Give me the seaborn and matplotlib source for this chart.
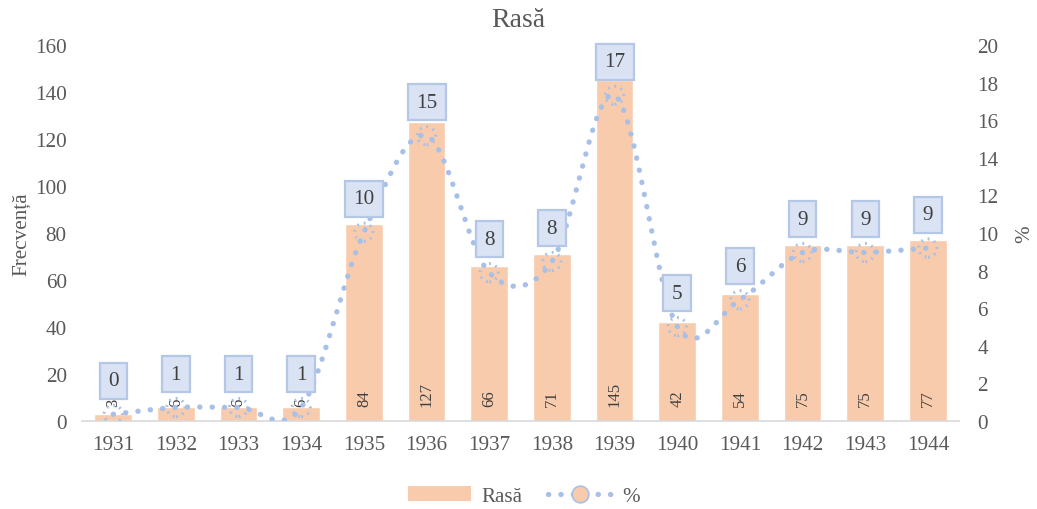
import numpy as np
import pandas as pd
import matplotlib
matplotlib.use("Agg")
import matplotlib.pyplot as plt
import seaborn as sns
from matplotlib.lines import Line2D
from matplotlib.patches import Patch

years = ["1931", "1932", "1933", "1934", "1935", "1936", "1937",
         "1938", "1939", "1940", "1941", "1942", "1943", "1944"]
counts = [3, 6, 6, 6, 84, 127, 66, 71, 145, 42, 54, 75, 75, 77]
percent = [0.36, 0.72, 0.72, 0.72, 10.04, 15.17, 7.89, 8.48, 17.32,
           5.02, 6.45, 8.96, 8.96, 9.20]
percent_labels = ["0", "1", "1", "1", "10", "15", "8", "8", "17",
                  "5", "6", "9", "9", "9"]

BAR = "#F8CBAD"
LINE = "#A8C0E8"
TXT = "#595959"
FS = 15.2

sns.set_theme(style="white")
plt.rcParams["font.family"] = ["Liberation Serif", "DejaVu Serif"]

df = pd.DataFrame({"year": years, "count": counts, "pct": percent})

fig = plt.figure(figsize=(10.37, 5.10), dpi=100)
ax = fig.add_axes([0.079, 0.1725, 0.846, 0.7375])
sns.barplot(data=df, x="year", y="count", color=BAR, width=0.6,
            saturation=1, ax=ax, zorder=2)
ax.set_xlim(-0.5, len(years) - 0.5)
ax.set_ylim(0, 160)
ax.set_yticks(np.arange(0, 161, 20))
for s in ["top", "right", "left"]:
    ax.spines[s].set_visible(False)
ax.spines["bottom"].set_color("#D9D9D9")
ax.spines["bottom"].set_linewidth(1.2)
ax.tick_params(axis="both", length=0, labelsize=FS, labelcolor=TXT)
ax.tick_params(axis="y", pad=11)
ax.tick_params(axis="x", pad=10)
ax.set_xlabel("")
ax.set_ylabel("Frecvență", fontsize=FS, color=TXT, labelpad=3)

# bar labels at base, rotated
for i, v in enumerate(counts):
    ax.annotate(str(v), (i, 0), xytext=(0, 11), textcoords="offset points",
                rotation=90, ha="center", va="bottom", fontsize=12,
                color="#404040", zorder=3)

ax2 = ax.twinx()
ax2.set_ylim(0, 20)
ax2.set_yticks(np.arange(0, 21, 2))
for s in ["top", "right", "left", "bottom"]:
    ax2.spines[s].set_visible(False)
ax2.tick_params(axis="y", length=0, labelsize=FS, labelcolor=TXT, pad=13)
ax2.set_ylabel("%", fontsize=FS, color=TXT, labelpad=12)

# smoothed line (Catmull-Rom style bezier like spreadsheet smoothing)
xs = np.arange(len(percent), dtype=float)
ys = np.array(percent, dtype=float)
px = np.concatenate([[xs[0]], xs, [xs[-1]]])
py = np.concatenate([[ys[0]], ys, [ys[-1]]])
cx, cy = [], []
t = np.linspace(0, 1, 30)
for k in range(1, len(px) - 2):
    p0 = np.array([px[k], py[k]])
    p3 = np.array([px[k + 1], py[k + 1]])
    c1 = p0 + (np.array([px[k + 1], py[k + 1]]) - np.array([px[k - 1], py[k - 1]])) / 6
    c2 = p3 - (np.array([px[k + 2], py[k + 2]]) - np.array([px[k], py[k]])) / 6
    b = ((1 - t) ** 3)[:, None] * p0 + (3 * (1 - t) ** 2 * t)[:, None] * c1 \
        + (3 * (1 - t) * t ** 2)[:, None] * c2 + (t ** 3)[:, None] * p3
    cx.extend(b[:, 0]); cy.extend(b[:, 1])
ax2.plot(cx, cy, color=LINE, linewidth=3.8, linestyle=(0, (0.05, 2.3)),
         dash_capstyle="round", zorder=3)
sns.scatterplot(x=xs, y=ys, ax=ax2, s=170, facecolors="none",
                edgecolors=LINE, linewidths=2.2, linestyles=(0, (0.6, 1.6)),
                zorder=4, legend=False)

for i, (v, lab) in enumerate(zip(percent, percent_labels)):
    ax2.annotate(lab, (i, v), xytext=(0, 24), textcoords="offset points",
                 ha="center", va="center", fontsize=FS, color="#404040",
                 bbox=dict(boxstyle="square,pad=0.4", fc="#DAE3F3",
                           ec="#B4C7E7", lw=1.6), zorder=5)

fig.suptitle("Rasă", y=0.985, fontsize=20, color=TXT)

handles = [Patch(facecolor=BAR, edgecolor="none"),
           Line2D([0], [0], color=LINE, linewidth=3.8,
                  linestyle=(0, (0.05, 2.3)), dash_capstyle="round",
                  marker="o", markersize=12, markerfacecolor=BAR,
                  markeredgecolor=LINE, markeredgewidth=1.2)]
fig.legend(handles, ["Rasă", "%"], loc="center", bbox_to_anchor=(0.505, 0.025),
           ncol=2, frameon=False, fontsize=FS, labelcolor=TXT,
           handlelength=3.0, handleheight=0.7, columnspacing=1.2,
           handletextpad=0.5)

fig.savefig("out.png", dpi=100)
